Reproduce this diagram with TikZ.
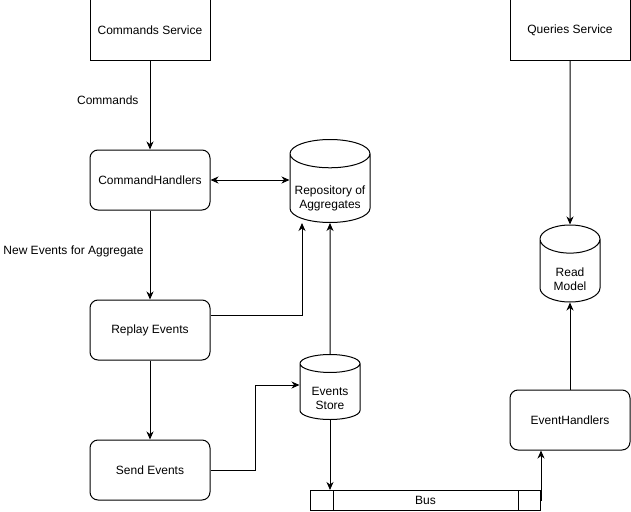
\documentclass[tikz,border=0pt]{standalone}
\usepackage{fontspec}
\setmainfont{Liberation Sans}
\usetikzlibrary{arrows.meta, shapes.geometric}

% text of a cylinder, pushed down below the top cap
\newcommand{\lowtext}[2]{\raisebox{-#1}[\height][\depth]{%
\begin{tabular}{@{}c@{}}#2\end{tabular}}}

\begin{document}
\begin{tikzpicture}[x = 1pt, y = -1pt,
                > = {Stealth[length=8pt, width=7pt, inset=2.5pt]}, % arrow head style
                node distance = 150pt, % distance between the boxes
                line width = 1pt, % line style
                font = \fontsize{12}{14}\selectfont
            ]

            \tikzstyle{service}=[draw = black, rectangle, inner sep = 0pt,
            minimum width = 120pt, minimum height = 60pt]
            \tikzstyle{handler}=[service, rounded corners = 8pt]
            \tikzstyle{db}=[draw = black, cylinder, shape border rotate = 90,
            inner sep = 0pt, anchor = shape center]
            \tikzstyle{label}=[inner sep = 3pt]

            \useasboundingbox (0,0) rectangle (631,511);

            \node (cmdsvc) [service] at (150,30) {Commands Service};
            \node (qrysvc) [service] at (570,30) {Queries Service};
            \node (cmdh) [handler, below of=cmdsvc] {CommandHandlers};
            \node (replay) [handler, below of=cmdh] {Replay Events};
            \node (send) [handler, below of=replay, node distance = 140pt]
            {Send Events};
            \node (evh) [handler] at (570,420) {EventHandlers};

            \node (repo) [db, aspect = 0.4, minimum width = 80pt,
            minimum height = 83pt] at (330,181)
            {\lowtext{10pt}{Repository of\\Aggregates}};
            \node (store) [db, aspect = 0.49, minimum width = 60pt,
            minimum height = 65pt] at (330,387) {\lowtext{8pt}{Events\\Store}};
            \node (readm) [db, aspect = 0.86, minimum width = 60pt,
            minimum height = 77pt] at (570,263.5) {\lowtext{10pt}{Read\\Model}};

            \node (bus) [draw = black, rectangle, inner sep = 0pt,
            minimum width = 230pt, minimum height = 20pt] at (425.5,500.5) {Bus};
            \draw ([xshift=23pt]bus.north west) -- ([xshift=23pt]bus.south west);
            \draw ([xshift=-23pt]bus.north east) -- ([xshift=-23pt]bus.south east);

            \draw[->] (cmdsvc) -- node[label, left=8pt, pos=0.45] {Commands} (cmdh);
            \draw[<->] (cmdh.east) -- (cmdh.east -| repo.west);
            \draw[->] (cmdh) -- node[label, left=3pt, pos=0.46]
            {New Events for Aggregate} (replay);
            \draw[->] ([yshift=15pt]replay.east) -| ([xshift=-28pt]repo.south);
            \draw[->] (replay) -- (send);
            \draw[->] (store.north) -- (repo.south);
            \draw[->] (send.east) -- ++(45,0) |- (store.west |- 0,385);
            \draw[->] (store.south) -- (store.south |- bus.north);
            \draw[->] (bus.east) -- (bus.east |- evh.south);
            \draw[->] (evh) -- (readm.south);
            \draw[->] (qrysvc) -- (readm.north);
        \end{tikzpicture}
\end{document}
